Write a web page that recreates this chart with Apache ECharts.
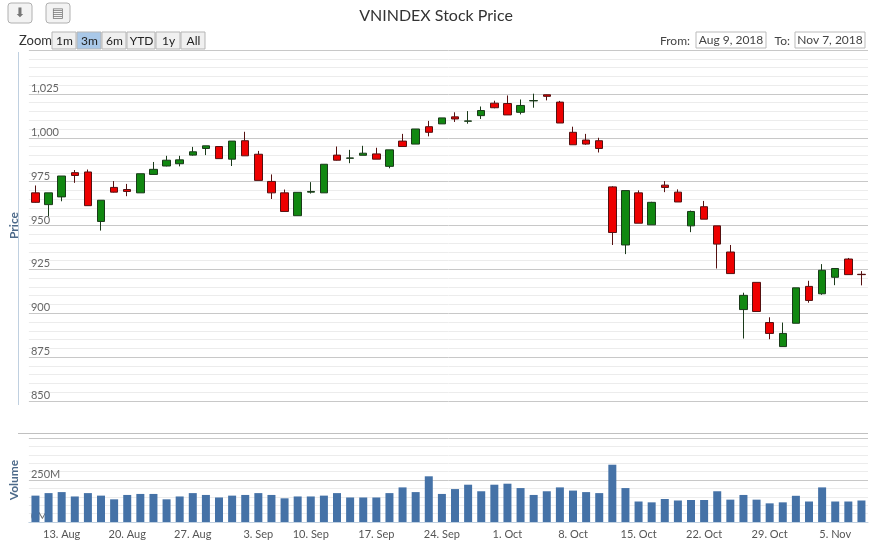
<!DOCTYPE html>
<html><head><meta charset="utf-8">
<script src="https://cdn.jsdelivr.net/npm/echarts@6/dist/echarts.min.js"></script>
<style>html,body{margin:0;padding:0;background:#fff}#c{width:872px;height:545px}</style>
</head><body><div id="c"></div>
<script>
const dates = ['2018-08-09','2018-08-10','2018-08-13','2018-08-14','2018-08-15','2018-08-16','2018-08-17','2018-08-20','2018-08-21','2018-08-22','2018-08-23','2018-08-24','2018-08-27','2018-08-28','2018-08-29','2018-08-30','2018-08-31','2018-09-04','2018-09-05','2018-09-06','2018-09-07','2018-09-10','2018-09-11','2018-09-12','2018-09-13','2018-09-14','2018-09-17','2018-09-18','2018-09-19','2018-09-20','2018-09-21','2018-09-24','2018-09-25','2018-09-26','2018-09-27','2018-09-28','2018-10-01','2018-10-02','2018-10-03','2018-10-04','2018-10-05','2018-10-08','2018-10-09','2018-10-10','2018-10-11','2018-10-12','2018-10-15','2018-10-16','2018-10-17','2018-10-18','2018-10-19','2018-10-22','2018-10-23','2018-10-24','2018-10-25','2018-10-26','2018-10-29','2018-10-30','2018-10-31','2018-11-01','2018-11-02','2018-11-05','2018-11-06','2018-11-07'];
const opens  = [968.6,961.9,966.3,980.1,980.5,952.3,971.7,970.5,968.6,979.1,983.9,985.2,990.1,993.9,995.0,987.8,998.3,990.6,975.1,968.6,955.6,969.0,968.6,990.1,988.3,990.0,990.8,983.7,998.1,996.4,1006.3,1007.9,1011.9,1009.4,1012.6,1019.7,1019.5,1014.5,1021.0,1024.5,1020.3,1003.1,998.7,998.3,972.0,938.9,968.6,950.4,973.0,969.0,949.8,960.7,949.8,934.9,902.1,917.6,894.7,881.0,894.3,915.3,911.1,920.5,930.9,922.2];
const closes = [963.2,968.6,978.2,978.5,961.3,964.4,969.0,969.4,979.5,982.0,987.2,987.4,992.0,995.4,988.1,998.1,989.7,975.7,968.6,958.0,968.9,969.4,984.9,987.2,988.5,991.2,987.8,993.1,995.0,1005.0,1003.1,1011.3,1010.7,1009.6,1015.5,1017.1,1013.0,1018.4,1021.2,1023.6,1008.4,996.0,996.4,993.9,946.0,969.9,951.3,963.2,971.7,963.4,958.0,953.6,939.4,922.6,910.2,901.0,888.5,888.5,914.5,907.3,924.5,925.5,922.0,922.0];
const lows   = [963.0,955.2,963.8,974.3,961.3,947.1,968.8,966.7,968.6,979.0,983.7,983.7,989.8,990.1,988.0,983.9,989.7,975.7,965.1,958.0,955.6,968.2,968.6,987.0,985.5,990.0,987.8,982.6,995.0,996.4,1000.8,1007.9,1009.0,1008.0,1010.7,1016.8,1013.0,1013.3,1017.1,1021.3,1008.4,996.0,996.0,991.6,938.9,933.7,951.3,950.4,969.0,963.4,946.2,953.6,925.5,922.6,885.6,901.0,885.2,881.0,894.3,906.0,910.5,916.0,922.0,915.9];
const highs  = [972.8,968.6,978.2,981.6,981.9,964.4,975.3,973.7,979.5,986.2,989.7,989.7,994.8,995.4,995.0,998.1,1003.4,992.5,979.1,970.5,968.9,974.7,984.9,995.0,993.1,995.4,994.3,993.1,1002.2,1005.0,1009.6,1011.3,1014.5,1015.2,1017.8,1021.1,1024.1,1021.8,1025.1,1024.6,1021.0,1006.3,1002.2,1000.0,972.4,969.9,970.0,963.5,975.3,970.6,958.5,964.0,949.8,938.9,911.7,917.6,897.7,894.7,914.5,918.5,928.0,925.5,931.5,924.0];
const volumes = [157,172,178,152,172,157,135,161,167,167,135,152,172,161,146,157,161,172,161,141,152,152,157,172,146,146,146,172,206,178,272,167,196,222,183,222,228,202,161,183,206,187,178,172,341,202,122,117,137,128,131,131,183,133,161,133,111,117,156,122,206,122,122,128];
const tickLabels = {2:'13. Aug',7:'20. Aug',12:'27. Aug',17:'3. Sep',21:'10. Sep',26:'17. Sep',31:'24. Sep',36:'1. Oct',41:'8. Oct',46:'15. Oct',51:'22. Oct',56:'29. Oct',61:'5. Nov'};
const zoomButtons = ['1m','3m','6m','YTD','1y','All'];

const candle = dates.map((d,i)=>[opens[i],closes[i],lows[i],highs[i]]);
const FONT = 'Lato, "DejaVu Sans", sans-serif';
const chart = echarts.init(document.getElementById('c'));
const minorCols = ['#c8c8c8','#ececec','#ececec','#ececec','#ececec'];

const graphics = [];
// export buttons
[[8,'⬇'],[46,'▤']].forEach(([x,t])=>{
  graphics.push({type:'rect',shape:{x:x,y:3,width:24,height:20,r:3},style:{fill:'#f3f3f3',stroke:'#b0b0b0'}});
  graphics.push({type:'text',style:{x:x+12,y:13,text:t,fill:'#777',font:'13px '+FONT,align:'center',verticalAlign:'middle'}});
});
graphics.push({type:'text',style:{x:19,y:41,text:'Zoom',fill:'#333',font:'13px '+FONT,verticalAlign:'middle'}});
const bw=[25,25,25,29,25,25]; let bx=52;
zoomButtons.forEach((b,i)=>{
  graphics.push({type:'rect',shape:{x:bx,y:32,width:bw[i]-1,height:17},style:{fill:i===1?'#a9c8e8':'#f0f0f0',stroke:'#b5b5b5'}});
  graphics.push({type:'text',style:{x:bx+bw[i]/2,y:41,text:b,fill:'#222',font:'12px '+FONT,align:'center',verticalAlign:'middle'}});
  bx+=bw[i];
});
graphics.push({type:'text',style:{x:690,y:41,text:'From:',fill:'#444',font:'12px '+FONT,align:'right',verticalAlign:'middle'}});
graphics.push({type:'rect',shape:{x:696,y:32,width:70,height:16},style:{fill:'#fff',stroke:'#bbb'}});
graphics.push({type:'text',style:{x:731,y:40,text:'Aug 9, 2018',fill:'#444',font:'12px '+FONT,align:'center',verticalAlign:'middle'}});
graphics.push({type:'text',style:{x:790,y:41,text:'To:',fill:'#444',font:'12px '+FONT,align:'right',verticalAlign:'middle'}});
graphics.push({type:'rect',shape:{x:795,y:32,width:70,height:16},style:{fill:'#fff',stroke:'#bbb'}});
graphics.push({type:'text',style:{x:830,y:40,text:'Nov 7, 2018',fill:'#444',font:'12px '+FONT,align:'center',verticalAlign:'middle'}});
graphics.push({type:'line',shape:{x1:18.5,y1:52,x2:18.5,y2:405},style:{stroke:'#c0d0e0',lineWidth:1}});
graphics.push({type:'line',shape:{x1:18,y1:433.5,x2:868,y2:433.5},style:{stroke:'#c0c0c0',lineWidth:1}});

chart.setOption({
  animation:false,
  title:{text:'VNINDEX Stock Price',left:'center',top:3,textStyle:{fontFamily:FONT,fontSize:16,fontWeight:'normal',color:'#333'}},
  graphic:graphics,
  grid:[{left:18,right:4,top:50,height:351},{left:18,right:4,top:438,height:84}],
  xAxis:[
    {type:'category',data:dates,gridIndex:0,axisLine:{show:false},axisTick:{show:false},axisLabel:{show:false},boundaryGap:true},
    {type:'category',data:dates,gridIndex:1,boundaryGap:true,
     axisLine:{lineStyle:{color:'#c0d0e0'}},
     axisTick:{alignWithLabel:true,interval:(i)=>tickLabels[i]!==undefined,lineStyle:{color:'#c0d0e0'},length:5},
     axisLabel:{interval:(i)=>tickLabels[i]!==undefined,formatter:(v,i)=>tickLabels[i]||'',color:'#555',fontFamily:FONT,fontSize:11,margin:7}}
  ],
  yAxis:[
    {type:'value',gridIndex:0,min:850,max:1050,interval:5,position:'left',
     axisLine:{show:false},axisTick:{show:false},
     name:'Price',nameLocation:'middle',nameRotate:90,nameGap:8,nameTextStyle:{color:'#4d6a8a',fontWeight:'bold',fontSize:12,fontFamily:FONT},
     axisLabel:{inside:true,margin:2,verticalAlign:'bottom',color:'#666',fontFamily:FONT,fontSize:11,
       formatter:(v)=>(v%25===0 && v<1050)?(v>=1000?'1,'+String(v-1000).padStart(3,'0'):String(v)):''},
     splitLine:{lineStyle:{color:minorCols,width:1}}},
    {type:'value',gridIndex:1,min:0,max:500,interval:50,position:'left',
     axisLine:{show:false},axisTick:{show:false},
     name:'Volume',nameLocation:'middle',nameRotate:90,nameGap:8,nameTextStyle:{color:'#4d6a8a',fontWeight:'bold',fontSize:12,fontFamily:FONT},
     axisLabel:{inside:true,margin:2,verticalAlign:'bottom',color:'#666',fontFamily:FONT,fontSize:11,
       formatter:(v)=>(v===0||v===250)?v+'M':''},
     splitLine:{lineStyle:{color:['#c8c8c8','#ececec','#ececec','#ececec','#ececec'],width:1}}}
  ],
  series:[
    {type:'candlestick',xAxisIndex:0,yAxisIndex:0,data:candle,barWidth:8,
     itemStyle:{color:'#118811',color0:'#ee0000',borderColor:'#1a3a1a',borderColor0:'#551111',borderWidth:1}},
    {type:'bar',xAxisIndex:1,yAxisIndex:1,data:volumes,barWidth:8,itemStyle:{color:'#4572a7'}}
  ]
});
</script></body></html>
